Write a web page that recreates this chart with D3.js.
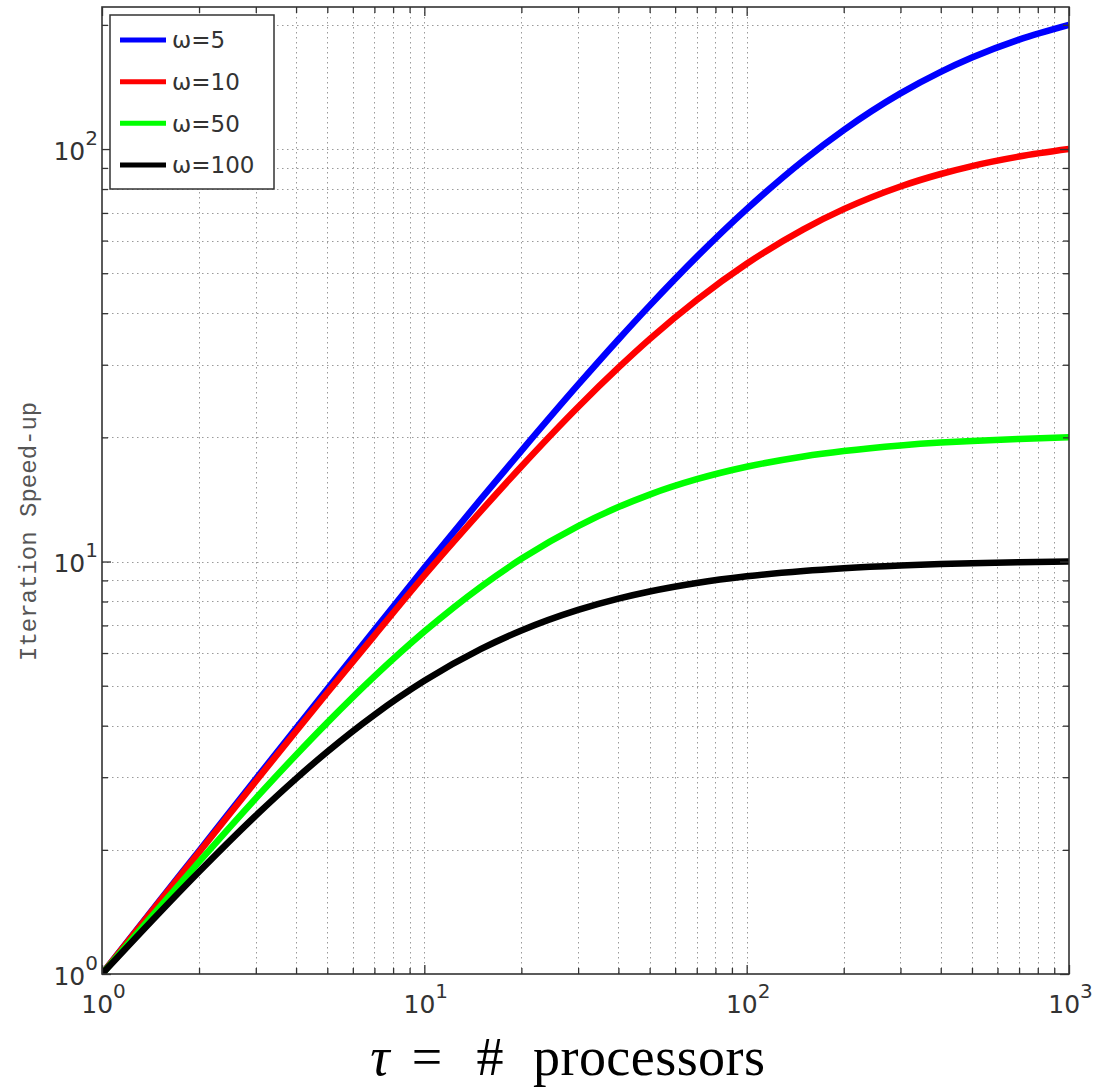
<!DOCTYPE html>
<html>
<head>
<meta charset="utf-8">
<script src="https://cdn.jsdelivr.net/npm/d3@7"></script>
<style>
  html, body { margin: 0; padding: 0; background: #fff; }
  svg { display: block; }
</style>
</head>
<body>
<svg id="chart" width="1095" height="1092"></svg>
<script>
// Processor counts sampled along the x axis
const tau = [1, 1.5, 2, 3, 4, 5, 7, 10, 15, 20, 30, 40, 50, 70, 100, 150, 200, 300, 400, 500, 700, 1000];

// Iteration speed-up for each ω
const speedupW5   = [1, 1.496, 1.988, 2.97, 3.945, 4.91, 6.82, 9.65, 14.2, 18.55, 26.83, 34.54, 41.73, 54.77, 71.5, 93.85, 111.2, 136.45, 153.9, 166.7, 184.2, 200];
const speedupW10  = [1, 1.49, 1.973, 2.934, 3.878, 4.805, 6.613, 9.25, 13.27, 17.0, 23.7, 29.5, 34.6, 43.05, 52.7, 63.9, 71.5, 81.15, 87.0, 90.95, 95.9, 100];
const speedupW50  = [1, 1.445, 1.87, 2.666, 3.396, 4.068, 5.266, 6.765, 8.698, 10.15, 12.19, 13.55, 14.53, 15.83, 16.97, 17.98, 18.53, 19.12, 19.43, 19.61, 19.83, 20.0];
const speedupW100 = [1, 1.402, 1.77, 2.421, 2.977, 3.459, 4.25, 5.137, 6.138, 6.803, 7.632, 8.128, 8.458, 8.87, 9.206, 9.486, 9.633, 9.784, 9.861, 9.908, 9.963, 10.0];

const seriesLabels = ["ω=5", "ω=10", "ω=50", "ω=100"];
const seriesColors = ["#0000ff", "#ff0000", "#00ff00", "#000000"];
const seriesValues = [speedupW5, speedupW10, speedupW50, speedupW100];

// Axis ticks
const xMajor = [1, 10, 100, 1000];
const yMajor = [1, 10, 100];
const xMinor = [2,3,4,5,6,7,8,9, 20,30,40,50,60,70,80,90, 200,300,400,500,600,700,800,900];
const yMinor = [2,3,4,5,6,7,8,9, 20,30,40,50,60,70,80,90, 200];

const xTitleParts = ["τ", "=", "#", "processors"];
const yTitle = "Iteration Speed-up";

// Layout
const plot = { left: 102, right: 1069, top: 7, bottom: 974 };

const svg = d3.select("#chart");

const x = d3.scaleLog().domain([1, 1000]).range([plot.left, plot.right]);
const y = d3.scaleLog().domain([1, 221]).range([plot.bottom, plot.top]);

// Dotted grid
const grid = svg.append("g")
  .attr("stroke", "#9a9a9a")
  .attr("stroke-width", 1)
  .attr("stroke-dasharray", "1.5,3.5");

grid.selectAll("line.vx")
  .data(xMajor.concat(xMinor).filter(v => v > 1 && v < 1000))
  .join("line")
  .attr("x1", d => Math.round(x(d)) + 0.5).attr("x2", d => Math.round(x(d)) + 0.5)
  .attr("y1", plot.top).attr("y2", plot.bottom);

grid.selectAll("line.hy")
  .data(yMajor.concat(yMinor).filter(v => v > 1))
  .join("line")
  .attr("y1", d => Math.round(y(d)) + 0.5).attr("y2", d => Math.round(y(d)) + 0.5)
  .attr("x1", plot.left).attr("x2", plot.right);

// Curves
svg.append("clipPath").attr("id", "plotClip")
  .append("rect")
  .attr("x", plot.left).attr("y", plot.top)
  .attr("width", plot.right - plot.left).attr("height", plot.bottom - plot.top);

const line = d3.line()
  .x(d => x(d[0]))
  .y(d => y(d[1]))
  .curve(d3.curveMonotoneX);

svg.append("g").attr("clip-path", "url(#plotClip)")
  .selectAll("path")
  .data(seriesValues.map((vals, i) => ({ color: seriesColors[i], pts: tau.map((t, j) => [t, vals[j]]) })))
  .join("path")
  .attr("fill", "none")
  .attr("stroke", d => d.color)
  .attr("stroke-width", 6.5)
  .attr("stroke-linejoin", "round")
  .attr("d", d => line(d.pts));

// Axes with inward ticks on all four sides
function styleAxis(g) {
  g.select(".domain").remove();
  g.selectAll(".tick line").attr("stroke", "#333").attr("stroke-width", 1.3);
}

function addAxis(axisFn, scale, values, size, transform) {
  const g = svg.append("g")
    .attr("transform", transform)
    .call(axisFn(scale).tickValues(values).tickSize(-size).tickFormat(() => ""));
  styleAxis(g);
  return g;
}

addAxis(d3.axisBottom, x, xMinor, 6, `translate(0,${plot.bottom})`);
addAxis(d3.axisTop, x, xMinor, 6, `translate(0,${plot.top})`);
addAxis(d3.axisLeft, y, yMinor, 6, `translate(${plot.left},0)`);
addAxis(d3.axisRight, y, yMinor, 6, `translate(${plot.right},0)`);
addAxis(d3.axisTop, x, xMajor, 9, `translate(0,${plot.top})`);
addAxis(d3.axisRight, y, yMajor, 9, `translate(${plot.right},0)`);

function powerLabel(sel) {
  sel.each(function (d) {
    const t = d3.select(this);
    t.text(null);
    t.append("tspan").text("10");
    t.append("tspan").attr("dy", -15).attr("font-size", 20)
      .text(Math.round(Math.log10(d)));
  });
}

const xAxisG = svg.append("g")
  .attr("transform", `translate(0,${plot.bottom})`)
  .call(d3.axisBottom(x).tickValues(xMajor).tickSize(-9).tickFormat(d => d));
styleAxis(xAxisG);
xAxisG.selectAll("text")
  .attr("y", 39).attr("dy", null).attr("dx", 1)
  .attr("font-family", "DejaVu Sans, sans-serif")
  .attr("font-size", 25).attr("fill", "#333")
  .call(powerLabel);

const yAxisG = svg.append("g")
  .attr("transform", `translate(${plot.left},0)`)
  .call(d3.axisLeft(y).tickValues(yMajor).tickSize(-9).tickFormat(d => d));
styleAxis(yAxisG);
yAxisG.selectAll("text")
  .attr("x", -4).attr("dy", 10)
  .attr("font-family", "DejaVu Sans, sans-serif")
  .attr("font-size", 25).attr("fill", "#333")
  .call(powerLabel);

// Frame
svg.append("rect")
  .attr("x", plot.left).attr("y", plot.top)
  .attr("width", plot.right - plot.left).attr("height", plot.bottom - plot.top)
  .attr("fill", "none").attr("stroke", "#333").attr("stroke-width", 1.6);

// Legend
const legend = svg.append("g");
legend.append("rect")
  .attr("x", 110).attr("y", 15).attr("width", 164).attr("height", 174)
  .attr("fill", "#fff").attr("stroke", "#333").attr("stroke-width", 1.5);

const rowY = d3.scalePoint().domain(seriesLabels).range([40, 165]);
const rows = legend.selectAll("g.row").data(seriesLabels).join("g")
  .attr("transform", d => `translate(0,${rowY(d)})`);
rows.append("line")
  .attr("x1", 120).attr("x2", 166)
  .attr("stroke", (d, i) => seriesColors[i]).attr("stroke-width", 5);
rows.append("text")
  .attr("x", 172).attr("dy", "0.36em")
  .attr("font-family", "DejaVu Sans, sans-serif")
  .attr("font-size", 23).attr("fill", "#333")
  .text(d => d);

// Axis titles
svg.append("text")
  .attr("transform", "translate(36,661) rotate(-90)")
  .attr("font-family", "Liberation Mono, monospace")
  .attr("font-size", 24).attr("fill", "#555")
  .text(yTitle);

const xt = svg.append("g")
  .attr("font-family", "Liberation Serif, DejaVu Serif, serif")
  .attr("font-size", 54).attr("fill", "#000");
xt.append("text").attr("x", 380).attr("y", 1075).attr("text-anchor", "middle")
  .attr("font-style", "italic").text(xTitleParts[0]);
xt.append("text").attr("x", 427).attr("y", 1075).attr("text-anchor", "middle").text(xTitleParts[1]);
xt.append("text").attr("x", 490).attr("y", 1075).attr("text-anchor", "middle").text(xTitleParts[2]);
xt.append("text").attr("x", 533).attr("y", 1075).attr("textLength", 232).text(xTitleParts[3]);
</script>
</body>
</html>
